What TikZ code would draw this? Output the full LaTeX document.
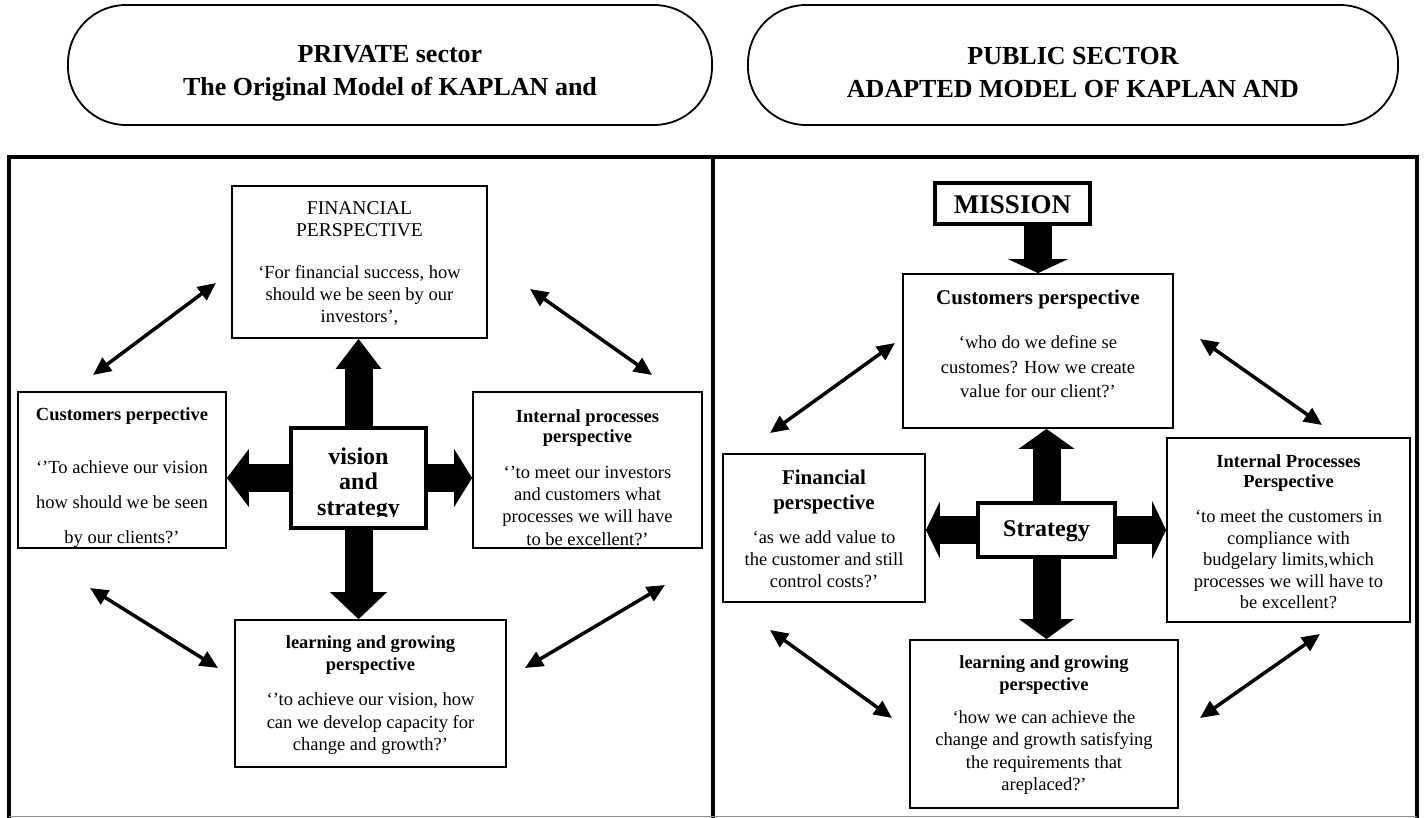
\documentclass[tikz,border=0pt]{standalone}
\usepackage{fontspec}
\setmainfont{Liberation Serif}
\usetikzlibrary{arrows.meta}
\newcommand\fsz[2]{\fontsize{#1}{#2}\selectfont}
\tikzset{
  hdr/.style={draw, line width=1.8pt, rounded corners=58pt, inner sep=0pt},
  hdrtxt/.style={align=center, inner sep=0pt, font=\fsz{26}{33}\bfseries},
  box/.style={draw, line width=1.8pt, fill=white, inner sep=0pt},
  thickbox/.style={draw, line width=4pt, fill=white, inner sep=0pt},
  ttl/.style={anchor=north, align=center, inner sep=0pt, font=\fsz{18.5}{#1}\bfseries},
  bigttl/.style={anchor=north, align=center, inner sep=0pt, font=\fsz{21}{#1}\bfseries},
  body/.style={anchor=north, align=center, inner sep=0pt, font=\fsz{18.5}{#1}},
  dbl/.style={line width=3.5pt, {Triangle[length=18pt,width=16pt]}-{Triangle[length=18pt,width=16pt]}},
  fat/.style 2 args={line width=28pt, -{Triangle[length=#1,width=#2,line width=0pt]}},
  frame/.style={line width=4pt}
}
\begin{document}
\begin{tikzpicture}[x=1pt,y=-1pt]
\useasboundingbox (0,0) rectangle (1427,818);
% headers
\node[hdr, minimum width=644pt, minimum height=120pt] (h1) at (390,65) {};
\node[hdrtxt] (h1t) at (390,73) {PRIVATE sector\\The Original Model of KAPLAN and};
\node[hdr, minimum width=650pt, minimum height=120pt] (h2) at (1073,65) {};
\node[hdrtxt] (h2t) at (1073,73) {PUBLIC SECTOR\\ADAPTED MODEL OF KAPLAN AND};
% frame
\draw[frame] (7,157) -- (1419,157);
\draw[frame] (9,155) -- (9,818);
\draw[frame] (713,155) -- (713,818);
\draw[frame] (1417,155) -- (1417,818);
\draw[line width=1.5pt, black!45] (9,816.5) -- (1417,816.5);

% ---------- left panel ----------
\node[box, minimum width=255pt, minimum height=152pt] (fin) at (359.5,262) {};
\node[anchor=north, align=center, inner sep=0pt, font=\fsz{19.5}{22.5}] (fint) at (359.5,201) {FINANCIAL\\PERSPECTIVE};
\node[body=22] (finb) at (359.5,265.6) {‘For financial success, how\\should we be seen by our\\investors’,};

\node[box, minimum width=208pt, minimum height=156pt] (cust) at (122,470) {};
\node[ttl=22] (custt) at (122,407.6) {Customers perpective};
\node[body=35] (custb) at (122,460.6) {‘’To achieve our vision\\how should we be seen\\by our clients?’};

\node[box, minimum width=229pt, minimum height=156pt] (int) at (587.5,470) {};
\node[ttl=20] (intt) at (587.5,409.6) {Internal processes\\perspective};
\node[body=22.3] (intb) at (587.5,465.6) {‘’to meet our investors\\and customers what\\processes we will have\\to be excellent?’};

\node[box, minimum width=271pt, minimum height=147pt] (lrn) at (370.5,693.5) {};
\node[ttl=22] (lrnt) at (370.5,635.6) {learning and growing\\perspective};
\node[body=22.5] (lrnb) at (370.5,692.6) {‘’to achieve our vision, how\\can we develop capacity for\\change and growth?’};

\node[thickbox, minimum width=135pt, minimum height=100pt] (vs) at (358.5,478) {};
\begin{scope}
  \clip (293,430) rectangle (424,516);
  \node[anchor=north, align=center, inner sep=0pt, font=\fsz{24}{25.5}\bfseries] (vst) at (358.5,447.4) {vision\\and\\strategy};
\end{scope}

\draw[fat={30pt}{46pt}] (vs.north) -- (vs.north |- fin.south);
\draw[fat={27pt}{57pt}] (vs.south) -- (vs.south |- lrn.north);
\draw[fat={18pt}{58pt}] (vs.east) -- (vs.east -| int.west);
\draw[fat={22pt}{58pt}] (vs.west) -- (vs.west -| cust.east);

\coordinate (la1) at (93,375);  \coordinate (la2) at (216,283);
\coordinate (lb1) at (530,289); \coordinate (lb2) at (652,375);
\coordinate (lc1) at (90,588);  \coordinate (lc2) at (218,668);
\coordinate (ld1) at (525,668); \coordinate (ld2) at (665,585);
\draw[dbl] (la1) -- (la2);
\draw[dbl] (lb1) -- (lb2);
\draw[dbl] (lc1) -- (lc2);
\draw[dbl] (ld1) -- (ld2);

% ---------- right panel ----------
\node[thickbox, minimum width=155pt, minimum height=41pt] (mis) at (1012.5,204) {};
\node[inner sep=0pt, font=\fsz{27}{30}\bfseries] (mist) at (1012.5,205) {MISSION};

\node[box, minimum width=270pt, minimum height=154pt] (cus2) at (1038,351) {};
\node[bigttl=24] (cus2t) at (1038,289.6) {Customers perspective};
\node[body=24.5] (cus2b) at (1038,335.6) {‘who do we define se\\customes? How we create\\value for our client?’};

\node[box, minimum width=202pt, minimum height=148pt] (fin2) at (824,528) {};
\node[bigttl=25] (fin2t) at (824,469.6) {Financial\\perspective};
\node[body=22] (fin2b) at (824,530.6) {‘as we add value to\\the customer and still\\control costs?’};

\node[box, minimum width=243pt, minimum height=184pt] (int2) at (1288.5,530) {};
\node[ttl=20] (int2t) at (1288.5,454.6) {Internal Processes\\Perspective};
\node[body=21.5] (int2b) at (1288.5,509.6) {‘to meet the customers in\\compliance with\\budgelary limits,which\\processes we will have to\\be excellent?};

\node[box, minimum width=268pt, minimum height=168pt] (lrn2) at (1044,724) {};
\node[ttl=22] (lrn2t) at (1044,655.6) {learning and growing\\perspective};
\node[body=22.3] (lrn2b) at (1044,710.6) {‘how we can achieve the\\change and growth satisfying\\the requirements that\\areplaced?’};

\node[thickbox, minimum width=137pt, minimum height=54pt] (str) at (1046.5,530) {};
\node[inner sep=0pt, font=\fsz{24}{26}\bfseries] (strt) at (1046.5,531) {Strategy};

\draw[fat={14pt}{60pt}] (cus2.north |- mis.south) -- (cus2.north);
\draw[fat={20pt}{56pt}] (str.north) -- (str.north |- cus2.south);
\draw[fat={20pt}{55pt}] (str.south) -- (str.south |- lrn2.north);
\draw[fat={14pt}{58pt}] (str.east) -- (str.east -| int2.west);
\draw[fat={14pt}{57pt}] (str.west) -- (str.west -| fin2.east);

\coordinate (ra1) at (770,433);  \coordinate (ra2) at (895,343);
\coordinate (rb1) at (1200,339); \coordinate (rb2) at (1322,425);
\coordinate (rc1) at (770,630);  \coordinate (rc2) at (892,718);
\coordinate (rd1) at (1200,718); \coordinate (rd2) at (1320,634);
\draw[dbl] (ra1) -- (ra2);
\draw[dbl] (rb1) -- (rb2);
\draw[dbl] (rc1) -- (rc2);
\draw[dbl] (rd1) -- (rd2);
\end{tikzpicture}
\end{document}
